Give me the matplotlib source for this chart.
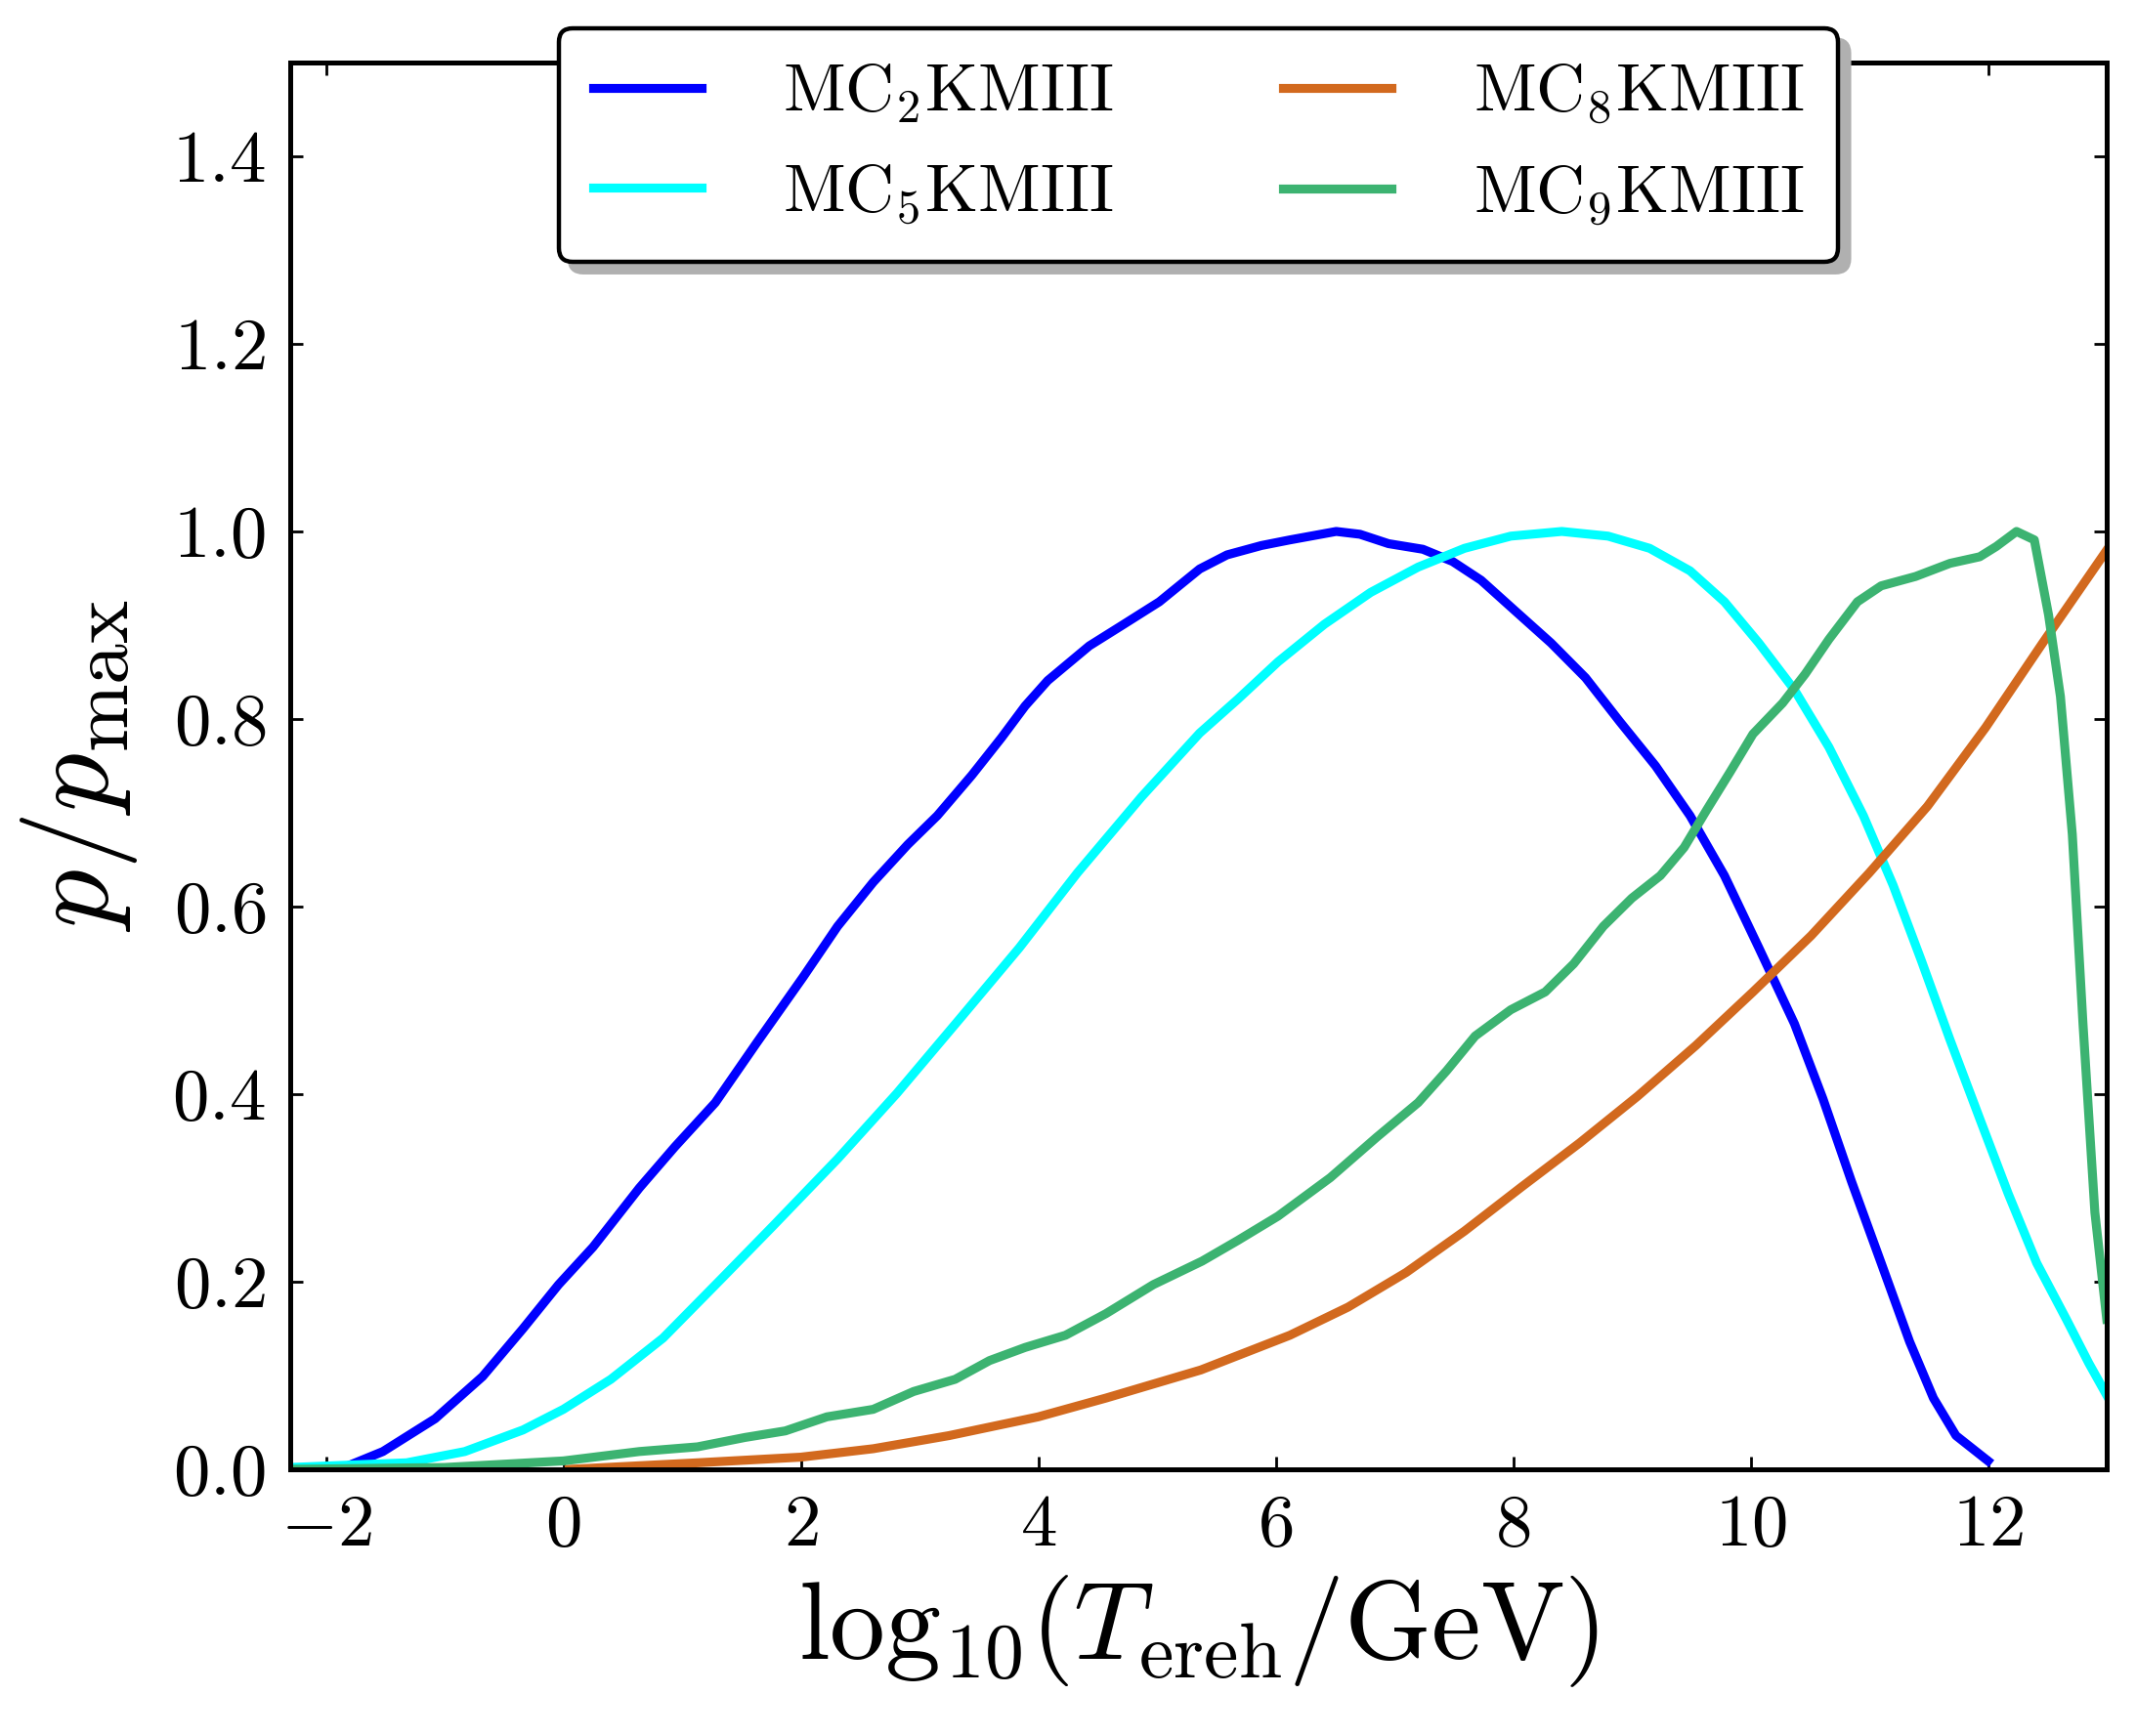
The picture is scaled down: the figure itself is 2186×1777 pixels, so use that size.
import numpy as np
import matplotlib
matplotlib.use("Agg")
import matplotlib.pyplot as plt

plt.rcParams['mathtext.fontset'] = 'cm'
plt.rcParams['font.family'] = 'serif'
plt.rcParams['font.serif'] = ['cmr10', 'DejaVu Serif']
plt.rcParams['axes.unicode_minus'] = False

# ---- data ----
x_mc2 = [-1.79, -1.52, -1.08, -0.68, -0.34, -0.04, 0.25, 0.64, 0.94, 1.28, 1.63, 2.02, 2.31,
         2.61, 2.9, 3.15, 3.44, 3.69, 3.89, 4.08, 4.43, 4.72, 5.02, 5.36, 5.59, 5.88, 6.12,
         6.51, 6.71, 6.95, 7.24, 7.49, 7.73, 8.02, 8.32, 8.61, 8.9, 9.2, 9.49, 9.78, 10.07,
         10.37, 10.61, 10.85, 11.1, 11.34, 11.54, 11.73, 12.0]
y_mc2 = [0.005, 0.019, 0.054, 0.099, 0.15, 0.197, 0.237, 0.30, 0.344, 0.391, 0.455, 0.525,
         0.579, 0.626, 0.666, 0.697, 0.74, 0.78, 0.814, 0.841, 0.878, 0.901, 0.925, 0.96,
         0.975, 0.985, 0.991, 1.0, 0.997, 0.987, 0.981, 0.968, 0.948, 0.915, 0.881, 0.844,
         0.797, 0.75, 0.697, 0.633, 0.556, 0.475, 0.395, 0.307, 0.22, 0.136, 0.076, 0.036,
         0.009]

x_mc5 = [-2.3, -1.32, -0.83, -0.34, 0.0, 0.4, 0.84, 1.33, 1.77, 2.31, 2.81, 3.35, 3.84, 4.33,
         4.87, 5.36, 5.68, 6.02, 6.41, 6.8, 7.2, 7.59, 7.98, 8.41, 8.8, 9.15, 9.49, 9.78,
         10.07, 10.37, 10.66, 10.95, 11.2, 11.44, 11.68, 11.93, 12.17, 12.41, 12.66, 12.85,
         13.0]
y_mc5 = [0.002, 0.007, 0.019, 0.042, 0.064, 0.096, 0.14, 0.203, 0.26, 0.331, 0.401, 0.482,
         0.556, 0.636, 0.717, 0.785, 0.821, 0.861, 0.901, 0.935, 0.962, 0.982, 0.995, 1.0,
         0.995, 0.982, 0.958, 0.925, 0.881, 0.831, 0.77, 0.697, 0.623, 0.542, 0.458, 0.374,
         0.294, 0.22, 0.16, 0.113, 0.079]

x_mc8 = [0.05, 1.13, 2.0, 2.61, 3.25, 4.0, 4.57, 5.37, 6.12, 6.61, 7.1, 7.59, 8.07, 8.56,
         9.05, 9.54, 10.02, 10.51, 11.0, 11.49, 11.98, 12.46, 13.0]
y_mc8 = [0.0, 0.007, 0.013, 0.022, 0.036, 0.056, 0.076, 0.106, 0.143, 0.173, 0.21, 0.254,
         0.301, 0.348, 0.398, 0.452, 0.509, 0.569, 0.636, 0.707, 0.791, 0.881, 0.98]

x_mc9 = [-2.3, -1.0, 0.0, 0.64, 1.13, 1.53, 1.87, 2.22, 2.61, 2.95, 3.3, 3.59, 3.89, 4.23,
         4.57, 4.97, 5.38, 5.68, 6.02, 6.46, 6.85, 7.2, 7.44, 7.68, 7.98, 8.27, 8.51, 8.76,
         9.0, 9.24, 9.44, 9.63, 9.83, 10.02, 10.27, 10.46, 10.66, 10.9, 11.1, 11.39, 11.68,
         11.93, 12.07, 12.24, 12.39, 12.51, 12.61, 12.71, 12.8, 12.9, 13.0]
y_mc9 = [0.0, 0.002, 0.009, 0.019, 0.024, 0.034, 0.041, 0.056, 0.064, 0.083, 0.096, 0.116,
         0.13, 0.143, 0.166, 0.197, 0.222, 0.244, 0.27, 0.311, 0.354, 0.391, 0.425, 0.462,
         0.49, 0.509, 0.539, 0.579, 0.609, 0.633, 0.663, 0.703, 0.744, 0.784, 0.817, 0.848,
         0.885, 0.925, 0.942, 0.952, 0.966, 0.973, 0.984, 1.0, 0.991, 0.911, 0.824, 0.677,
         0.475, 0.274, 0.16]

labels = [r'$\mathrm{MC_2KMIII}$', r'$\mathrm{MC_5KMIII}$', r'$\mathrm{MC_8KMIII}$', r'$\mathrm{MC_9KMIII}$']
colors = ['#0000ff', '#00ffff', '#d2691e', '#3cb371']

xticks = [-2, 0, 2, 4, 6, 8, 10, 12]
xtick_labels = [r'$-2$', r'$0$', r'$2$', r'$4$', r'$6$', r'$8$', r'$10$', r'$12$']
yticks = [0.0, 0.2, 0.4, 0.6, 0.8, 1.0, 1.2, 1.4]
ytick_labels = [r'$0.0$', r'$0.2$', r'$0.4$', r'$0.6$', r'$0.8$', r'$1.0$', r'$1.2$', r'$1.4$']

fig = plt.figure(figsize=(10.93, 8.885), dpi=200)
ax = fig.add_axes([0.1359, 0.1536, 0.9863 - 0.1359, 0.964 - 0.1536])

series = [(x_mc2, y_mc2), (x_mc5, y_mc5), (x_mc8, y_mc8), (x_mc9, y_mc9)]
for (xs, ys), lab, c in zip(series, labels, colors):
    ax.plot(xs, ys, color=c, lw=3.3, label=lab, solid_joinstyle='round')

ax.set_xlim(-2.3, 13)
ax.set_ylim(0, 1.5)
ax.set_xticks(xticks)
ax.set_xticklabels(xtick_labels)
ax.set_yticks(yticks)
ax.set_yticklabels(ytick_labels)
ax.tick_params(direction='in', top=True, right=True, length=4.7, width=1.0,
               labelsize=27, pad=9)
for s in ax.spines.values():
    s.set_linewidth(1.8)

ax.set_xlabel(r'$\mathrm{log}_{10}(T_{\rm ereh}/\mathrm{GeV})$', fontsize=41, labelpad=5)
ax.set_ylabel(r'$p/p_{\rm max}$', fontsize=43, labelpad=12)

leg = ax.legend(loc='upper center', bbox_to_anchor=(0.5, 1.024), borderaxespad=0.0,
                ncol=2, fontsize=25,
                handlelength=1.6, handletextpad=1.2, columnspacing=2.5,
                labelspacing=0.55, borderpad=0.5, fancybox=True,
                shadow={'ox': 4, 'oy': -4, 'color': '#b0b0b0', 'alpha': 1.0},
                framealpha=1, edgecolor='black')
leg.get_frame().set_linewidth(1.6)
for h in leg.get_lines():
    h.set_linewidth(3.3)

fig.savefig('out.png', dpi=200)
